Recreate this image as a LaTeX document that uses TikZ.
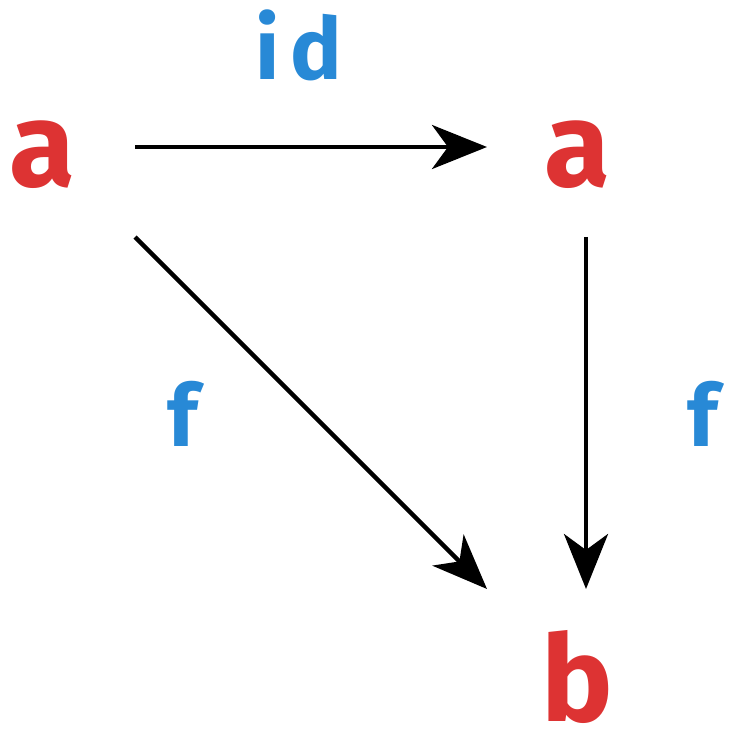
\documentclass[tikz,border=0pt]{standalone}
\usepackage{fontspec}
\setmainfont{Fira Sans}
\usetikzlibrary{arrows.meta}
\definecolor{objred}{RGB}{221,51,51}
\definecolor{labblue}{RGB}{40,137,214}
\tikzset{
  obj/.style={text=objred, font=\fontsize{120}{120}\selectfont\bfseries, anchor=base, inner sep=0pt},
  lab/.style={text=labblue, font=\fontsize{86}{86}\selectfont\bfseries\addfontfeature{LetterSpace=12}, anchor=base, inner sep=0pt},
  arr/.style={line width=4.5pt, -{Stealth[length=55pt, width=44pt, inset=16pt]}}
}
\begin{document}
\begin{tikzpicture}[x=1pt,y=-1pt]
\useasboundingbox (0,0) rectangle (731,730);
\node[obj] (a1) at (42,187) {a};
\node[obj] (a2) at (577,187) {a};
\node[obj] (b) at (577,721) {b};
\node[lab] (id) at (299,80) {id};
\node[lab] (f1) at (183,446) {f};
\node[lab] (f2) at (703,446) {f};
\coordinate (s1) at (135,147);
\coordinate (e1) at (487,147);
\coordinate (s2) at (135,237);
\coordinate (e2) at (487,589);
\coordinate (s3) at (586,237);
\coordinate (e3) at (586,589);
\draw[arr] (s1) -- (e1);
\draw[arr] (s2) -- (e2);
\draw[arr] (s3) -- (e3);
\end{tikzpicture}
\end{document}
